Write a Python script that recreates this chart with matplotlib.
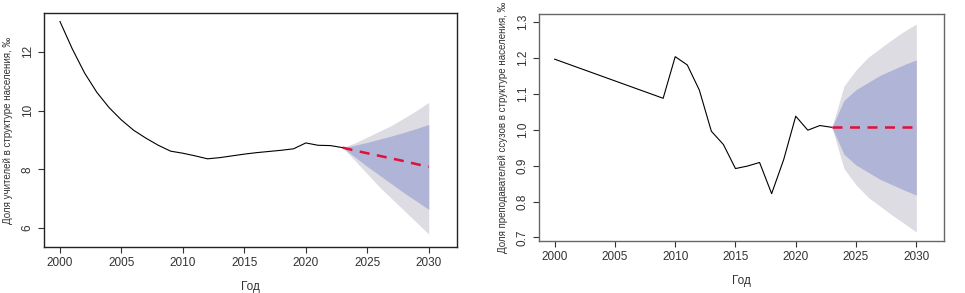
import matplotlib.pyplot as plt
import numpy as np

plt.rcParams['font.family'] = ['Liberation Sans', 'DejaVu Sans']

# left panel: teachers
years_a = list(range(2000, 2024))
share_a = [13.03, 12.1, 11.28, 10.62, 10.1, 9.68, 9.33, 9.06, 8.82, 8.62, 8.55, 8.46,
           8.36, 8.40, 8.46, 8.52, 8.57, 8.61, 8.65, 8.70, 8.90, 8.82, 8.81, 8.74]
fc_years = list(range(2023, 2031))
mean_a = [8.74, 8.64, 8.55, 8.46, 8.37, 8.28, 8.18, 8.09]
hi80_a = [8.74, 8.82, 8.92, 9.03, 9.14, 9.26, 9.39, 9.53]
lo80_a = [8.74, 8.42, 8.10, 7.80, 7.50, 7.20, 6.92, 6.64]
hi95_a = [8.74, 8.90, 9.10, 9.30, 9.50, 9.75, 10.0, 10.28]
lo95_a = [8.74, 8.30, 7.85, 7.40, 7.00, 6.60, 6.20, 5.80]

# right panel: college teachers
years_b = [2000, 2009, 2010, 2011, 2012, 2013, 2014, 2015, 2016, 2017, 2018, 2019,
           2020, 2021, 2022, 2023]
share_b = [1.197, 1.088, 1.204, 1.181, 1.111, 0.996, 0.959, 0.892, 0.899, 0.909,
           0.822, 0.917, 1.038, 0.999, 1.012, 1.007]
mean_b = [1.007] * 8
hi80_b = [1.007, 1.082, 1.112, 1.132, 1.152, 1.167, 1.182, 1.195]
lo80_b = [1.007, 0.932, 0.902, 0.882, 0.862, 0.847, 0.832, 0.818]
hi95_b = [1.007, 1.122, 1.167, 1.202, 1.227, 1.252, 1.275, 1.295]
lo95_b = [1.007, 0.892, 0.847, 0.812, 0.787, 0.762, 0.739, 0.715]

light = '#dcdce2'
blue = '#b0b4d6'
red = '#e0103a'
tcol = '#333333'

fig = plt.figure(figsize=(9.65, 2.93), dpi=100)
ax1 = fig.add_axes([44/965, 1-247/293, 413/965, 234/293])
ax2 = fig.add_axes([539/965, 1-241/293, 405/965, 227/293])


def draw(ax, yrs, vals, mean, hi80, lo80, hi95, lo95, ylim, yticks, ylab, fmt, edge):
    ax.fill_between(fc_years, lo95, hi95, color=light, lw=0)
    ax.fill_between(fc_years, lo80, hi80, color=blue, lw=0)
    ax.plot(yrs, vals, color='black', lw=0.8)
    ax.plot(fc_years, mean, color=red, lw=1.8, ls=(0, (4, 3)))
    ax.set_xlim(1998.7, 2032.3)
    ax.set_ylim(*ylim)
    ax.set_xticks(range(2000, 2031, 5))
    ax.set_yticks(yticks)
    ax.set_yticklabels([fmt.format(v) for v in yticks], rotation=90, va='center')
    ax.tick_params(labelsize=8.5, colors=tcol, length=4, width=0.8, direction='out')
    ax.set_xlabel('Год', fontsize=8.5, color=tcol, labelpad=8)
    ax.set_ylabel(ylab, fontsize=7, color=tcol, labelpad=6)
    for s in ax.spines.values():
        s.set_color(edge)
        s.set_linewidth(1.0)


draw(ax1, years_a, share_a, mean_a, hi80_a, lo80_a, hi95_a, lo95_a,
     (5.36, 13.32), [6, 8, 10, 12], 'Доля учителей в структуре населения, ‰', '{:d}', '#222222')
draw(ax2, years_b, share_b, mean_b, hi80_b, lo80_b, hi95_b, lo95_b,
     (0.69, 1.323), [0.7, 0.8, 0.9, 1.0, 1.1, 1.2, 1.3],
     'Доля преподавателей ссузов в структуре населения, ‰', '{:.1f}', '#666666')

fig.savefig('out.png', dpi=100)
